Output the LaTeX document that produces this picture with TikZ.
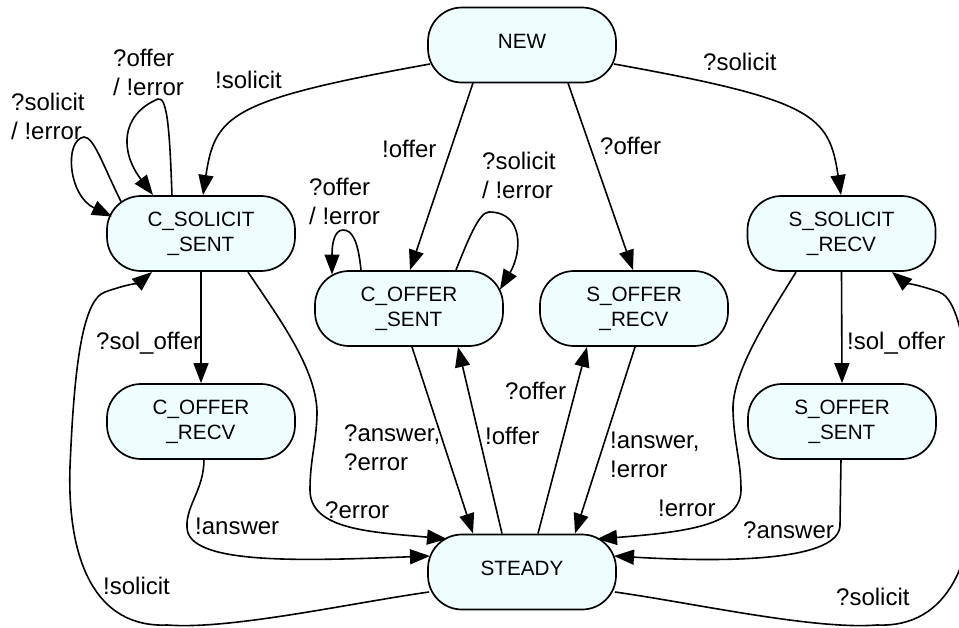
\documentclass[tikz,border=0pt]{standalone}
\usepackage{fontspec}
\setmainfont{Liberation Sans}
\usetikzlibrary{arrows.meta,calc}
\definecolor{statefill}{RGB}{238,254,254}
\begin{document}
\begin{tikzpicture}[x=1pt,y=-1pt,
  state/.style={draw,line width=1.7pt,fill=statefill,rounded corners=34pt,
    minimum width=188pt,minimum height=75pt,inner sep=0pt,align=center,
    font=\fontsize{20.7}{25}\selectfont},
  oneline/.style={text height=15pt,text depth=9pt},
  lbl/.style={inner sep=0pt,anchor=north west,align=left,
    font=\fontsize{24}{29}\selectfont},
  tr/.style={line width=1.6pt,-{Triangle[length=20pt,width=15pt]}}]
\useasboundingbox (0,0) rectangle (959,627);

% states
\node[state,oneline] (new)    at (522,45)    {NEW};
\node[state]         (css)    at (201,233.5) {C\_SOLICIT\\\_SENT};
\node[state]         (ssr)    at (841.5,233.5) {S\_SOLICIT\\\_RECV};
\node[state]         (cos)    at (409,308.5) {C\_OFFER\\\_SENT};
\node[state]         (sor)    at (634,308.5) {S\_OFFER\\\_RECV};
\node[state]         (cor)    at (201,421.5) {C\_OFFER\\\_RECV};
\node[state]         (sos)    at (842,421.5) {S\_OFFER\\\_SENT};
\node[state,oneline] (steady) at (522,572)   {STEADY};

% transitions leaving NEW
\draw[tr] ($(new)+(-92,19)$) .. controls +(-200,36) and +(12,-80) .. ($(css)+(2,-38.5)$);
\draw[tr] ($(new)+(92,19)$) .. controls +(200,36) and +(-12,-80) .. ($(ssr)+(-0.5,-38.5)$);
\draw[tr] ($(new)+(-49,38)$) -- ($(cos)+(1,-38.5)$);
\draw[tr] ($(new)+(46,38)$) -- ($(sor)+(-1,-38.5)$);

% self loops
\draw[tr] ($(css)+(-80,-32)$) .. controls +(-18,-36) and +(10,0) .. ($(css)+(-117,-96.5)$)
  .. controls +(-20,3) and +(-44,-21) .. ($(css)+(-89,-17)$);
\draw[tr] ($(css)+(-29,-37.5)$) .. controls +(-2,-56) and +(10,-4) .. ($(css)+(-43,-134.5)$)
  .. controls +(-38,16) and +(-33,-43) .. ($(css)+(-48,-38.5)$);
\draw[tr] ($(cos)+(-48,-38.5)$) .. controls +(-3,-30) and +(9,0) .. ($(cos)+(-66,-78.5)$)
  .. controls +(-9,0) and +(0,-30) .. ($(cos)+(-77,-34)$);
\draw[tr] ($(cos)+(47,-38.5)$) .. controls +(12,-30) and +(-10,0) .. ($(cos)+(80,-96.5)$)
  .. controls +(35,0) and +(22,-37) .. ($(cos)+(91,-19)$);

% client side
\draw[tr] (css.south) -- (cor.north);
\draw[tr] ($(css)+(47,38.5)$) .. controls +(30,45) and +(1,-45) .. ($(css)+(116,181.5)$)
  .. controls +(-1,30) and +(0,-30) .. ($(css)+(109,256.5)$)
  .. controls +(0,40) and +(-75,-7) .. ($(steady)+(-75,-33)$);
\draw[tr] ($(cor)+(3,37.5)$) .. controls +(0,31) and +(-1,-22) .. ($(cor)+(-14,105.5)$)
  .. controls +(0,38) and +(-130,5) .. ($(steady)+(-92,-16)$);
\draw[tr] ($(steady)+(-93,20)$) .. controls +(-78,11) and +(63,5) .. ($(steady)+(-355,53)$)
  .. controls +(-72,3) and +(-3,93) .. ($(steady)+(-452,-105)$)
  .. controls +(4,-97) and +(-23,8) .. ($(css)+(-96,58.5)$)
  .. controls +(20,-7) and +(-12,10) .. ($(css)+(-49,38.5)$);

% server side
\draw[tr] (ssr.south) -- (sos.north);
\draw[tr] ($(ssr)+(-45.5,38.5)$) .. controls +(-23,38) and +(-1,-40) .. ($(ssr)+(-108.5,176.5)$)
  .. controls +(1,35) and +(0,-30) .. ($(ssr)+(-100.5,256.5)$)
  .. controls +(0,35) and +(90,-7) .. ($(steady)+(75,-33)$);
\draw[tr] ($(sos)+(-1,37.5)$) -- ($(sos)+(-2,103.5)$)
  .. controls +(0,35) and +(120,7) .. ($(steady)+(92,-16)$);
\draw[tr] ($(steady)+(93,20)$) .. controls +(78,11) and +(-63,5) .. ($(steady)+(355,53)$)
  .. controls +(72,3) and +(3,93) .. ($(steady)+(452,-105)$)
  .. controls +(-4,-97) and +(23,8) .. ($(ssr)+(97.5,58.5)$)
  .. controls +(-20,-7) and +(12,10) .. ($(ssr)+(50.5,38.5)$);

% offer exchange around STEADY
\draw[tr] ($(cos)+(3,38.5)$) -- ($(steady)+(-49,-38.5)$);
\draw[tr] ($(steady)+(-20,-38.5)$) -- ($(cos)+(49,38.5)$);
\draw[tr] ($(steady)+(16,-38.5)$) -- ($(sor)+(-47,38.5)$);
\draw[tr] ($(sor)+(1,38.5)$) -- ($(steady)+(53,-38.5)$);

% transition labels
\node[lbl] (t1)  at (215,71)  {!solicit};
\node[lbl] (t2)  at (703,53)  {?solicit};
\node[lbl] (t3)  at (382,140) {!offer};
\node[lbl] (t4)  at (600,137) {?offer};
\node[lbl] (t5)  at (11,93)   {?solicit\\/ !error};
\node[lbl] (t6)  at (113,49)  {?offer\\/ !error};
\node[lbl] (t7)  at (309,178) {?offer\\/ !error};
\node[lbl] (t8)  at (482,152) {?solicit\\/ !error};
\node[lbl] (t9)  at (96,332)  {?sol\_offer};
\node[lbl] (t10) at (847,332) {!sol\_offer};
\node[lbl] (t11) at (325,502) {?error};
\node[lbl] (t12) at (195,518) {!answer};
\node[lbl] (t13) at (103,577) {!solicit};
\node[lbl] (t14) at (344,425) {?answer,\\?error};
\node[lbl] (t15) at (485,427) {!offer};
\node[lbl] (t16) at (505,382) {?offer};
\node[lbl] (t17) at (610,432) {!answer,\\!error};
\node[lbl] (t18) at (658,500) {!error};
\node[lbl] (t19) at (743,522) {?answer};
\node[lbl] (t20) at (836,588) {?solicit};
\end{tikzpicture}
\end{document}
